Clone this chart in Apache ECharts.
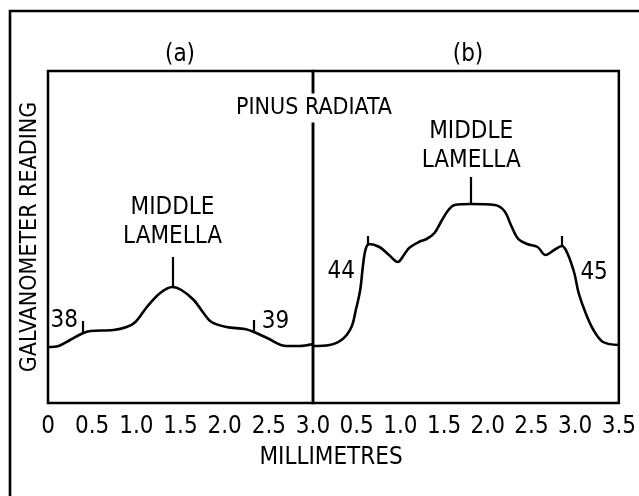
<!DOCTYPE html>
<html><head><meta charset="utf-8">
<script src="https://cdn.jsdelivr.net/npm/echarts@6/dist/echarts.min.js"></script>
<style>html,body{margin:0;padding:0;background:#fff}#c{width:639px;height:496px}</style>
</head><body><div id="c"></div>
<script>
// Panel (a): distance (mm) and galvanometer reading (arbitrary units)
const xA = [0,0.12,0.25,0.4,0.48,0.74,0.89,0.99,1.12,1.27,1.41,1.51,1.65,1.76,1.85,2.02,2.23,2.33,2.48,2.7,2.85,3.0];
const yA = [56,57,63,70,72,73,76,81,96,110,116,113,103,90,81,76,74,71,65,57,57,59];
// Panel (b)
const xB = [0,0.19,0.34,0.44,0.49,0.54,0.57,0.6,0.64,0.76,0.87,0.97,1.04,1.1,1.21,1.3,1.39,1.47,1.55,1.62,1.81,2.08,2.19,2.27,2.35,2.45,2.57,2.66,2.76,2.85,2.91,2.99,3.04,3.12,3.21,3.32,3.5];
const yB = [57,58,64,76,93,113,136,153,159,156,148,141,148,155,161,164,170,182,193,198,199,198,192,177,164,159,156,148,153,157,150,130,110,90,73,61,58];
// Tick labels
const tickLabelsA = ['0','0.5','1.0','1.5','2.0','2.5','3.0'];
const tickLabelsB = ['','0.5','1.0','1.5','2.0','2.5','3.0','3.5'];
// Specimen markers: [x, yBottom, yTop]
const markersA = [[0.39,70,82],[2.33,71,83]];
const markersB = [[0.63,157,167],[2.85,157,167]];
// Specimen labels: [text, x, y, align]
const specLabelsA = [['38',0.34,82,'right'],['39',2.42,81,'left']];
const specLabelsB = [['44',0.48,131,'right'],['45',3.06,130,'left']];
// Middle lamella leaders: [x, yBottom, yTop] and text anchor
const lamellaA = [1.41,116,146];
const lamellaB = [1.81,199,226];
const lamellaTextA = [1.41,181];
const lamellaTextB = [1.81,257];

const FONT = "'Liberation Sans Narrow','DejaVu Sans Condensed','Arial Narrow',sans-serif";
const FS = 24;

function pairs(xs, ys){ return xs.map((x,i)=>[x, ys[i]]); }
function markerLines(ms){ return ms.map(m=>[{coord:[m[0],m[1]]},{coord:[m[0],m[2]]}]); }

const chart = echarts.init(document.getElementById('c'));
const lineStyleBlack = {color:'#000', width:2.2, type:'solid'};

function curveSeries(idx, xs, ys, markers, lam){
  return {
    type:'line', xAxisIndex:idx, yAxisIndex:idx, data:pairs(xs,ys), smooth:0.35,
    symbol:'none', lineStyle:{color:'#000', width:2.6}, silent:true,
    markLine:{symbol:'none', silent:true, label:{show:false}, lineStyle:lineStyleBlack,
      data: markerLines(markers).concat([[{coord:[lam[0],lam[1]]},{coord:[lam[0],lam[2]]}]])}
  };
}

const option = {
  backgroundColor:'#fff',
  animation:false,
  grid:[
    {left:48, top:71, width:265, height:332, show:true, borderColor:'#000', borderWidth:2.5, backgroundColor:'transparent'},
    {left:313, top:71, width:309, height:332, show:true, borderColor:'#000', borderWidth:2.5, backgroundColor:'transparent'}
  ],
  xAxis:[
    {type:'value', gridIndex:0, min:0, max:3, interval:0.5, axisLine:{show:false}, axisTick:{show:false}, splitLine:{show:false},
     axisLabel:{margin:12, color:'#000', fontFamily:FONT, fontSize:FS, showMinLabel:true, showMaxLabel:true, formatter:v=>tickLabelsA[Math.round(v/0.5)]}},
    {type:'value', gridIndex:1, min:0, max:3.5, interval:0.5, axisLine:{show:false}, axisTick:{show:false}, splitLine:{show:false},
     axisLabel:{margin:12, color:'#000', fontFamily:FONT, fontSize:FS, showMinLabel:true, showMaxLabel:true, formatter:v=>tickLabelsB[Math.round(v/0.5)]}}
  ],
  yAxis:[
    {type:'value', gridIndex:0, min:0, max:332, show:false},
    {type:'value', gridIndex:1, min:0, max:332, show:false}
  ],
  series:[
    curveSeries(0, xA, yA, markersA, lamellaA),
    curveSeries(1, xB, yB, markersB, lamellaB)
  ],
  graphic:[
    {type:'polyline', z:50, shape:{points:[[10,496],[10,11],[639,11]]}, style:{stroke:'#000', lineWidth:2.6, fill:null}},
    {type:'text', z:100, x:180, y:55, style:{text:'(a)', font:`${FS}px ${FONT}`, fill:'#000', align:'center', verticalAlign:'middle'}},
    {type:'text', z:100, x:468, y:55, style:{text:'(b)', font:`${FS}px ${FONT}`, fill:'#000', align:'center', verticalAlign:'middle'}},
    {type:'text', z:100, x:314, y:108, style:{text:'PINUS RADIATA', font:`23px ${FONT}`, fill:'#000', align:'center', verticalAlign:'middle', backgroundColor:'#fff', padding:[3,2]}},
    {type:'text', z:100, x:331, y:458, style:{text:'MILLIMETRES', font:`${FS}px ${FONT}`, fill:'#000', align:'center', verticalAlign:'middle'}},
    {type:'text', z:100, x:30, y:237, rotation:Math.PI/2, style:{text:'GALVANOMETER READING', font:`23px ${FONT}`, fill:'#000', align:'center', verticalAlign:'middle'}}
  ]
};
chart.setOption(option);

// Annotation texts placed in data space through the chart's own coordinate conversion
function annText(gridIndex, x, y, text, align){
  const p = chart.convertToPixel({gridIndex:gridIndex}, [x, y]);
  return {type:'text', z:100, x:p[0], y:p[1], style:{text:text, font:`${FS}px ${FONT}`, fill:'#000', align:align, verticalAlign:'middle', lineHeight:29}};
}
const extra = [];
specLabelsA.forEach(l=>extra.push(annText(0, l[1], l[2], l[0], l[3])));
specLabelsB.forEach(l=>extra.push(annText(1, l[1], l[2], l[0], l[3])));
extra.push(annText(0, lamellaTextA[0], lamellaTextA[1], 'MIDDLE\nLAMELLA', 'center'));
extra.push(annText(1, lamellaTextB[0], lamellaTextB[1], 'MIDDLE\nLAMELLA', 'center'));
chart.setOption({graphic: option.graphic.concat(extra)});
</script></body></html>
